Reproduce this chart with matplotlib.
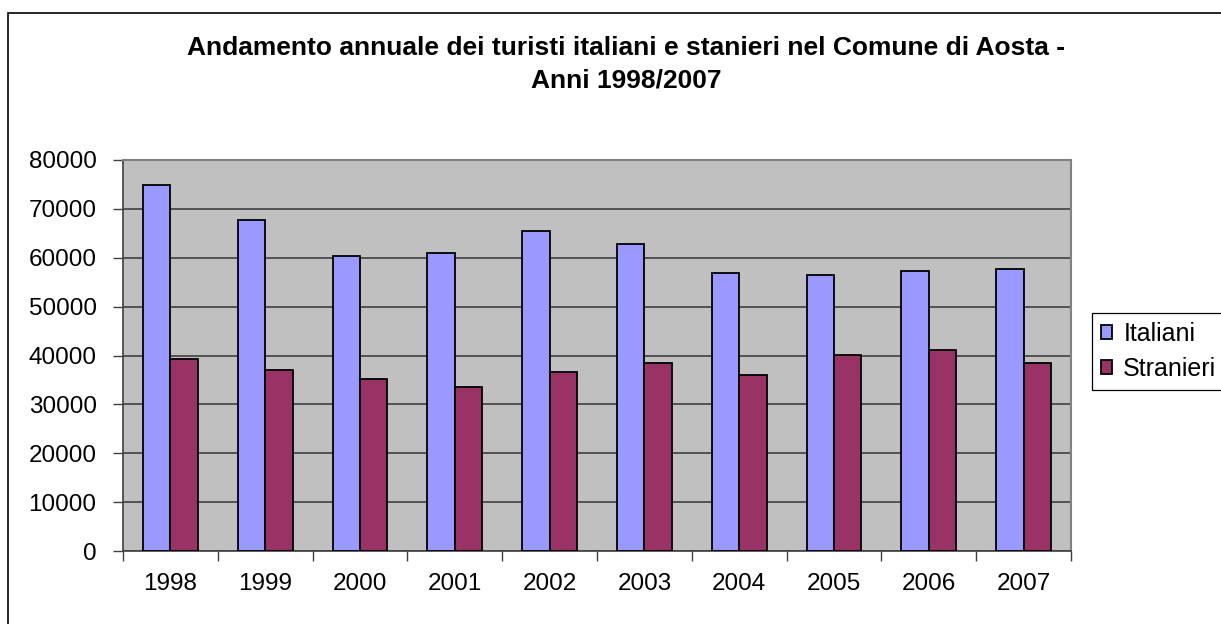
import numpy as np
import matplotlib.pyplot as plt
from matplotlib.patches import Rectangle

plt.rcParams['font.family'] = ['Liberation Sans', 'DejaVu Sans']

# Data
years = ['1998', '1999', '2000', '2001', '2002', '2003', '2004', '2005', '2006', '2007']
italiani = [74800, 67800, 60400, 60900, 65400, 62900, 56800, 56400, 57200, 57600]
stranieri = [39200, 37100, 35100, 33500, 36700, 38400, 36000, 40100, 41200, 38400]
title = ('Andamento annuale dei turisti italiani e stanieri nel Comune di Aosta -\n'
         'Anni 1998/2007')

fig = plt.figure(figsize=(12.21, 6.24), dpi=100)

# outer chart frame (runs off the right and bottom edges)
fig.patches.append(Rectangle((8 / 1221, -0.05), 1.2, 1 - 13 / 624 + 0.05,
                             transform=fig.transFigure, fill=False,
                             edgecolor='black', linewidth=1.2))

ax = fig.add_axes([123 / 1221, 1 - 551 / 624, 948 / 1221, 391 / 624])
ax.set_facecolor('#C0C0C0')

x = np.arange(len(years))
w = 0.29
ax.bar(x - w / 2, italiani, w, color='#9999FF', edgecolor='black', linewidth=1.3,
       label='Italiani', zorder=3)
ax.bar(x + w / 2, stranieri, w, color='#993366', edgecolor='black', linewidth=1.3,
       label='Stranieri', zorder=3)

ax.set_xlim(-0.5, len(years) - 0.5)
ax.set_ylim(0, 80000)
ax.set_yticks(np.arange(0, 80001, 10000))
ax.set_xticks(x)
ax.set_xticklabels(years)
ax.set_xticks(np.arange(-0.5, len(years)), minor=True)
ax.tick_params(axis='x', which='major', length=0, pad=16, labelsize=17.5)
ax.tick_params(axis='x', which='minor', length=7, width=1, color='#404040')
ax.tick_params(axis='y', length=7, width=1, color='#404040', pad=12, labelsize=17.5)

ax.grid(axis='y', color='#404040', linewidth=1.2, zorder=1)
for s in ['top', 'right']:
    ax.spines[s].set_color('#808080')
    ax.spines[s].set_linewidth(1.5)
ax.spines['left'].set_color('#404040')
ax.spines['bottom'].set_color('#404040')
ax.spines['left'].set_linewidth(1.2)
ax.spines['bottom'].set_linewidth(1.2)

fig.text(0.513, 1 - 64 / 624, title, ha='center', va='center', fontsize=19,
         fontweight='bold', linespacing=1.45)

leg = fig.legend(loc='upper left', bbox_to_anchor=(1092 / 1221, 1 - 313 / 624),
                 fontsize=18, fancybox=False, edgecolor='black', framealpha=1,
                 handlelength=0.45, handleheight=0.45, handletextpad=0.45,
                 borderpad=0.35, labelspacing=0.45, borderaxespad=0)
leg.get_frame().set_linewidth(0.9)

plt.savefig('out.png', dpi=100)
